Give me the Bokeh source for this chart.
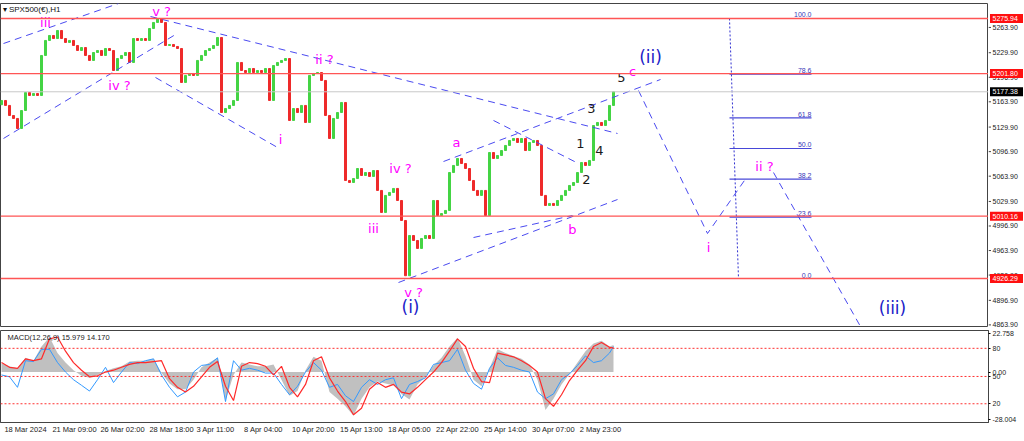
from bokeh.plotting import figure
from bokeh.models import Range1d, FixedTicker, Span, Label, ColumnDataSource
from bokeh.layouts import column, row
from bokeh.embed import file_html
from bokeh.resources import INLINE
from bokeh.core.properties import value

# ---------------- data ----------------
closes = [5165.7, 5159.0, 5145.5, 5141.5, 5128.0, 5152.2, 5176.4, 5172.4, 5175.1, 5172.4,
          5226.2, 5246.4, 5253.1, 5249.0, 5259.8, 5249.0, 5243.7, 5246.4, 5239.6, 5232.9,
          5236.9, 5226.2, 5219.5, 5230.2, 5232.9, 5226.2, 5235.6, 5232.9, 5206.0, 5222.1,
          5226.2, 5230.2, 5216.8, 5249.0, 5246.4, 5249.0, 5246.4, 5262.5, 5270.6, 5275.9,
          5270.6, 5239.6, 5241.0, 5238.3, 5235.6, 5189.9, 5199.3, 5202.0, 5199.3, 5219.5,
          5226.2, 5232.9, 5235.6, 5239.6, 5250.4, 5149.5, 5154.9, 5159.0, 5165.7, 5216.8,
          5206.0, 5203.3, 5208.7, 5203.3, 5206.0, 5203.3, 5208.7, 5165.7, 5212.7, 5216.8,
          5219.5, 5222.1, 5138.8, 5154.9, 5149.5, 5159.0, 5136.1, 5199.3, 5202.0, 5203.3,
          5192.6, 5145.5, 5114.6, 5141.5, 5149.5, 5163.0, 5058.1, 5055.4, 5060.8, 5074.2,
          5064.8, 5068.8, 5063.5, 5071.5, 5044.7, 5015.1, 5038.0, 5042.0, 5047.4, 5031.2,
          5004.3, 4930.0, 4984.1, 4977.4, 4966.7, 4980.1, 4984.1, 4980.1, 5031.2, 5011.0,
          5013.7, 5017.8, 5068.8, 5078.3, 5087.7, 5080.9, 5074.2, 5058.1, 5044.7, 5038.0,
          5044.7, 5011.0, 5095.7, 5087.7, 5091.7, 5098.4, 5105.2, 5111.9, 5114.6, 5109.2,
          5114.6, 5098.4, 5109.2, 5111.9, 5105.2, 5038.0, 5024.5, 5027.2, 5024.5, 5031.2,
          5038.0, 5044.7, 5051.4, 5055.4, 5068.8, 5082.3, 5078.3, 5085.0, 5132.0, 5136.1,
          5132.0, 5138.8, 5159.0, 5177.38]
first_open = 5160.0

key_levels = [5275.94, 5201.80, 5010.16, 4926.29]
last_price = 5177.38
price_ticks = [5263.90, 5229.90, 5196.90, 5163.90, 5129.90, 5096.90, 5063.90,
               5029.90, 4996.90, 4963.90, 4930.90, 4896.90, 4863.90]

time_labels = ["18 Mar 2024", "21 Mar 09:00", "26 Mar 02:00", "28 Mar 18:00", "3 Apr 11:00",
               "8 Apr 04:00", "10 Apr 20:00", "15 Apr 13:00", "18 Apr 05:00", "22 Apr 22:00",
               "25 Apr 14:00", "30 Apr 07:00", "2 May 23:00"]
time_label_centers = [6.0, 18.25, 30.25, 42.5, 53.5, 65.5, 78.0, 90.0, 102.0,
                      114.0, 126.0, 138.0, 149.75]

macd_x = list(range(0, 153, 2)) + [153]
macd_main = [5.0, 3.4, 2.2, 8.4, 6.7, 15.1, 20.7, 11.2, 5.6, 1.1,
             -2.2, -3.4, -1.7, 0.6, 2.2, 3.4, 6.2, 6.7, 6.7, 7.8,
             -0.6, -6.7, -10.1, -10.1, -4.5, 2.8, 5.6, 8.4, -16.8, -1.7,
             5.6, 4.5, 3.4, 3.4, 4.5, -4.5, -14.0, -11.2, 1.1, 9.0,
             6.7, -11.8, -15.7, -20.2, -25.8, -15.7, -9.0, -5.6, -6.7, -7.8,
             -12.9, -16.2, -7.3, -2.8, 3.9, 8.4, 15.1, 20.2, 9.5, -4.5,
             -8.4, 2.2, 13.4, 11.2, 9.5, 7.8, 4.5, -4.5, -22.4, -15.7,
             -7.3, -1.1, 5.6, 12.3, 16.8, 18.5, 15.1, 15.979]
macd_signal = [5.6, 2.8, 2.2, 7.8, 6.7, 7.8, 19.6, 20.7, 12.3, 5.6,
               1.1, -2.8, -2.2, 0.0, 1.1, 2.8, 4.5, 5.6, 5.6, 6.2,
               6.7, -3.9, -9.0, -11.8, -8.4, -2.8, 2.8, 6.2, -8.4, -16.8,
               3.4, 5.6, 5.0, 3.4, -1.7, 3.4, -9.0, -14.6, -7.3, 6.7,
               9.0, -3.4, -11.2, -17.4, -25.2, -21.3, -10.1, -6.2, -9.0, -7.3,
               -11.8, -12.9, -9.0, -4.5, 0.0, 5.6, 12.3, 19.6, 15.1, 2.2,
               -5.6, -6.2, 11.2, 10.1, 9.0, 6.7, 3.9, 0.0, -15.7, -20.2,
               -13.4, -5.0, 1.1, 6.7, 15.1, 17.4, 14.6, 14.170]
osc_line = [-1.7, -2.8, -9.0, 6.7, 6.2, 13.4, 13.4, 5.6, 0.0, -4.5,
            -7.8, -11.2, -4.5, 2.8, -6.2, 0.0, 5.6, 5.0, 6.7, 7.8,
            -1.7, -9.0, -14.6, -11.8, 0.0, 3.9, 4.5, 8.4, -17.4, 6.7,
            1.1, 2.2, 1.1, -0.6, -0.6, -7.3, -13.4, -8.4, 0.0, 5.6,
            1.1, -9.0, -7.3, -14.0, -17.4, -9.0, -4.5, -7.3, -4.5, -3.4,
            -15.7, -7.3, -5.6, -3.4, 4.5, 5.6, 6.7, 13.4, 1.1, -6.7,
            -10.1, 2.2, 8.4, 3.9, 2.8, 1.1, 0.0, -11.8, -15.7, -12.9,
            -4.5, -1.1, 3.9, 9.5, 5.6, 6.7, 11.2, 15.1]
osc_levels = [14.0, -2.6, -18.7]
osc_level_labels = ["80", "50", "20"]
macd_top, macd_bottom = 22.758, -28.004

fib_levels = [0.0, 23.6, 38.2, 50.0, 61.8, 78.6, 100.0]
fib_low, fib_high = 4926.29, 5275.94

# trend / projection lines (bar index, price)
trend_lines = [
    ([0.5, 29.25], [5242.3, 5296.1]),
    ([0.5, 43.5], [5114.6, 5254.4]),
    ([37.25, 154.0], [5278.6, 5121.3]),
    ([38.5, 69.0], [5196.6, 5102.5]),
    ([99.25, 154.0], [4920.9, 5032.5]),
    ([118.0, 142.75], [4981.4, 5011.0]),
    ([110.5, 164.75], [5083.6, 5193.9]),
    ([123.0, 144.25], [5138.8, 5080.9]),
    ([159.25, 176.5, 186.25], [5179.1, 4986.8, 5062.1]),
    ([193.0, 214.75], [5068.8, 4861.7]),
]

magenta_labels = [("iii", 11.0, 5270.6), ("v ?", 40.0, 5285.3), ("iv ?", 29.5, 5185.8),
                  ("ii ?", 80.75, 5220.8), ("i", 69.75, 5113.2), ("iii", 93.0, 4993.5),
                  ("iv ?", 99.75, 5074.2), ("v ?", 103.0, 4907.5), ("a", 113.75, 5109.2),
                  ("b", 142.75, 4992.2), ("c", 157.75, 5204.7), ("i", 176.75, 4968.0),
                  ("ii ?", 190.75, 5076.9)]
blue_labels = [("(i)", 102.25, 4888.6), ("(ii)", 162.25, 5223.5), ("(iii)", 222.75, 4886.0)]
black_labels = [("1", 144.75, 5107.8), ("2", 146.25, 5059.4), ("3", 147.5, 5154.9),
                ("4", 149.5, 5098.4), ("5", 155.0, 5196.6)]

# ---------------- drawing ----------------
FONT = "Liberation Sans"
WFONT = "DejaVu Sans"
xr = Range1d(-0.25, 246.75)
yr = Range1d(4860.4, 5296.1)

p = figure(width=988, height=327, x_range=xr, y_range=yr,
           y_axis_location=None, x_axis_location=None, toolbar_location=None,
           output_backend="svg", min_border_left=0, min_border_right=0,
           min_border_top=3, min_border_bottom=0)
p.grid.visible = False
p.outline_line_color = "#444444"

for lv in key_levels:
    p.add_layout(Span(location=lv, dimension="width", line_color="#ff5555", line_width=1.3))
p.add_layout(Span(location=last_price, dimension="width", line_color="#c8c8c8", line_width=1))

# candles
opens = [first_open] + closes[:-1]
xs = list(range(len(closes)))
tops = [max(o, c) for o, c in zip(opens, closes)]
bots = [min(o, c) for o, c in zip(opens, closes)]
cols = ["#44d444" if c >= o else "#ee2a2a" for o, c in zip(opens, closes)]
src = ColumnDataSource(dict(x=xs, top=tops, bottom=bots, color=cols))
p.vbar(x="x", top="top", bottom="bottom", width=0.5, fill_color="color",
       line_color="color", line_width=1, source=src)

# trend lines
for lx, ly in trend_lines:
    p.line(lx, ly, line_color="#4a4af0", line_width=1, line_dash="7 5")

# fibonacci
fib_x0, fib_x1 = 182.0, 202.5
fib_prices = [fib_low + (fib_high - fib_low) * f / 100.0 for f in fib_levels]
p.segment(x0=[fib_x0] * len(fib_prices), y0=fib_prices, x1=[fib_x1] * len(fib_prices),
          y1=fib_prices, line_color="#4848d8", line_width=1.2)
p.segment(x0=[fib_x0], y0=[fib_high], x1=[fib_x0 + 2.25], y1=[fib_low],
          line_color="#3030d0", line_width=1, line_dash="2 2")
p.text(x=[fib_x1] * len(fib_prices), y=fib_prices, text=[f"{f:.1f}" for f in fib_levels],
       text_align="right", text_baseline="bottom", text_font=value(FONT),
       text_font_size="7px", text_color="#3838b8", y_offset=-1)

# wave labels
p.text(x=[l[1] for l in magenta_labels], y=[l[2] for l in magenta_labels],
       text=[l[0] for l in magenta_labels], text_align="center", text_baseline="middle",
       text_font=value(WFONT), text_font_size="13px", text_color="#ff00ff")
p.text(x=[l[1] for l in blue_labels], y=[l[2] for l in blue_labels],
       text=[l[0] for l in blue_labels], text_align="center", text_baseline="middle",
       text_font=value(WFONT), text_font_size="17px", text_color="#2020c8")
p.text(x=[l[1] for l in black_labels], y=[l[2] for l in black_labels],
       text=[l[0] for l in black_labels], text_align="center", text_baseline="middle",
       text_font=value(WFONT), text_font_size="13px", text_color="#1a1a1a")

# title
p.add_layout(Label(x=0.3, y=5288.7, text="▾ SPX500(€),H1", text_font=FONT,
                   text_font_size="8px", text_color="#111111", text_baseline="middle"))

# ---------------- price scale strip (right of main panel) ----------------
s = figure(width=36, height=327, x_range=Range1d(0, 36), y_range=yr,
           y_axis_location=None, x_axis_location=None, toolbar_location=None,
           output_backend="svg", min_border_left=0, min_border_right=0,
           min_border_top=3, min_border_bottom=0)
s.grid.visible = False
s.outline_line_color = None
s.segment(x0=[0] * len(price_ticks), y0=price_ticks, x1=[2.5] * len(price_ticks),
          y1=price_ticks, line_color="#444444", line_width=1)
s.text(x=[4] * len(price_ticks), y=price_ticks, text=[f"{t:.2f}" for t in price_ticks],
       text_align="left", text_baseline="middle", text_font=value(FONT),
       text_font_size="7px", text_color="#222222")
box_prices = key_levels + [last_price]
box_colors = ["#ff1010"] * len(key_levels) + ["#000000"]
s.rect(x=[18] * len(box_prices), y=box_prices, width=33, height=9, height_units="screen",
       fill_color=box_colors, line_color=None)
s.text(x=[4] * len(box_prices), y=box_prices, text=[f"{b:.2f}" for b in box_prices],
       text_align="left", text_baseline="middle", text_font=value(FONT),
       text_font_size="7px", text_color="white")

# ---------------- MACD panel ----------------
m = figure(width=1024, height=109, x_range=xr, y_range=Range1d(-29.75, 24.51),
           y_axis_location="right", toolbar_location=None, output_backend="svg",
           min_border_left=0, min_border_right=36, min_border_top=3, min_border_bottom=13)
m.grid.visible = False
m.outline_line_color = "#444444"
m.varea(x=macd_x, y1=[0.0] * len(macd_x), y2=macd_main, fill_color="#c0c0c0")
for lv in osc_levels:
    m.add_layout(Span(location=lv, dimension="width", line_color="#ff3030",
                      line_width=1, line_dash="2 2"))
m.line(macd_x, osc_line, line_color="#3399ff", line_width=1)
m.line(macd_x, macd_signal, line_color="#ff2a2a", line_width=1.2)
m.add_layout(Label(x=1.5, y=20.4, text="MACD(12,26,9) 15.979 14.170", text_font=FONT,
                   text_font_size="7.5px", text_color="#222222", text_baseline="middle"))

yt = [macd_top] + osc_levels[:1] + [0.0] + osc_levels[1:] + [macd_bottom]
m.yaxis.ticker = FixedTicker(ticks=yt)
ov = {macd_top: "22.758", macd_bottom: "-28.004", 0.0: "0.00"}
for lv, lb in zip(osc_levels, osc_level_labels):
    ov[lv] = lb
m.yaxis.major_label_overrides = ov
m.yaxis.major_label_text_font = FONT
m.yaxis.major_label_text_font_size = "7px"
m.yaxis.major_label_text_color = "#222222"
m.yaxis.major_tick_in = 0
m.yaxis.major_tick_out = 2
m.yaxis.major_label_standoff = 2
m.yaxis.minor_tick_line_color = None
m.yaxis.axis_line_color = "#444444"

m.xaxis.ticker = FixedTicker(ticks=time_label_centers)
m.xaxis.major_label_overrides = {t: l for t, l in zip(time_label_centers, time_labels)}
m.xaxis.major_label_text_font = FONT
m.xaxis.major_label_text_font_size = "7.5px"
m.xaxis.major_label_text_color = "#222222"
m.xaxis.major_tick_line_color = None
m.xaxis.major_tick_out = 0
m.xaxis.major_tick_in = 0
m.xaxis.major_label_standoff = 2
m.xaxis.minor_tick_line_color = None
m.xaxis.axis_line_color = "#444444"

layout = column(row(p, s, spacing=0), m, spacing=0)
open("out.html", "w").write(file_html(layout, INLINE))
